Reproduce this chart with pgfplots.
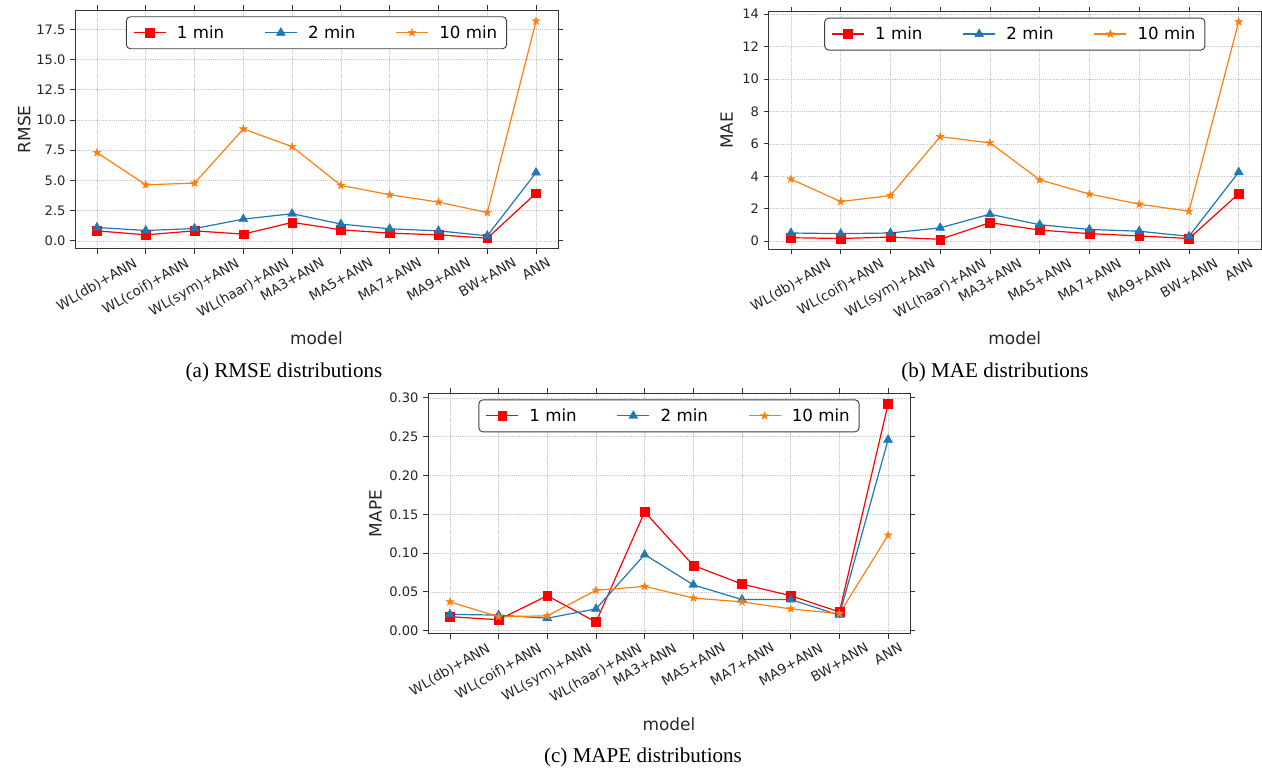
\documentclass[border=0pt]{standalone}
\usepackage{fontspec}
\setmainfont{DejaVu Sans}
\newfontfamily\capfont{Liberation Serif}
\usepackage{graphicx}
\usepackage{pgfplots}
\pgfplotsset{compat=1.18}
\usepackage{pgfplotstable}

\definecolor{mred}{HTML}{FF0000}
\definecolor{mblue}{HTML}{1F77B4}
\definecolor{morange}{HTML}{FF7F0E}

\pgfdeclareplotmark{fstar}{%
  \pgfpathmoveto{\pgfpointpolar{90}{\pgfplotmarksize}}%
  \pgfpathlineto{\pgfpointpolar{126}{0.4\pgfplotmarksize}}%
  \pgfpathlineto{\pgfpointpolar{162}{\pgfplotmarksize}}%
  \pgfpathlineto{\pgfpointpolar{198}{0.4\pgfplotmarksize}}%
  \pgfpathlineto{\pgfpointpolar{234}{\pgfplotmarksize}}%
  \pgfpathlineto{\pgfpointpolar{270}{0.4\pgfplotmarksize}}%
  \pgfpathlineto{\pgfpointpolar{306}{\pgfplotmarksize}}%
  \pgfpathlineto{\pgfpointpolar{342}{0.4\pgfplotmarksize}}%
  \pgfpathlineto{\pgfpointpolar{18}{\pgfplotmarksize}}%
  \pgfpathlineto{\pgfpointpolar{54}{0.4\pgfplotmarksize}}%
  \pgfpathclose\pgfusepathqfillstroke}

\pgfplotstableread{
x r1 r2 r10 a1 a2 a10 p1 p2 p10
0 0.83 1.11 7.31 0.21 0.50 3.82 0.018 0.021 0.037
1 0.50 0.86 4.64 0.16 0.46 2.44 0.014 0.020 0.018
2 0.83 1.02 4.78 0.25 0.50 2.81 0.045 0.016 0.019
3 0.56 1.80 9.26 0.11 0.82 6.44 0.011 0.028 0.052
4 1.53 2.25 7.80 1.14 1.66 6.06 0.153 0.098 0.057
5 0.92 1.39 4.59 0.68 1.01 3.78 0.084 0.059 0.042
6 0.64 1.00 3.82 0.46 0.72 2.90 0.060 0.040 0.037
7 0.50 0.83 3.21 0.32 0.61 2.28 0.045 0.040 0.028
8 0.22 0.42 2.34 0.16 0.29 1.84 0.024 0.020 0.022
9 3.94 5.65 18.19 2.92 4.25 13.53 0.292 0.246 0.123
}\data

\pgfplotsset{
  mystyle/.style={
    scale only axis,
    xmin=-0.45, xmax=9.45,
    xtick={0,...,9},
    xticklabels={\rotatebox{30}{WL(db)+ANN},\rotatebox{30}{WL(coif)+ANN},\rotatebox{30}{WL(sym)+ANN},\rotatebox{30}{WL(haar)+ANN},\rotatebox{30}{MA3+ANN},\rotatebox{30}{MA5+ANN},\rotatebox{30}{MA7+ANN},\rotatebox{30}{MA9+ANN},\rotatebox{30}{BW+ANN},\rotatebox{30}{ANN}},
    xticklabel style={anchor=north, inner sep=0pt, yshift=-2.5pt, font=\fontsize{10.2}{11}\selectfont},
    tick align=outside,
    major tick length=3.6pt,
    tick style={black!80, line width=0.6pt},
    axis line style={black!80, line width=0.6pt},
    grid=major,
    grid style={densely dotted, black!22, line width=0.5pt},
    tick label style={font=\fontsize{9.8}{11}\selectfont, text=black!85},
    /pgf/number format/assume math mode=true,
    label style={font=\fontsize{12.7}{14}\selectfont, text=black!85},
    xlabel={model},
    xlabel style={at={(axis description cs:0.5,-0.374)}, anchor=center},
    legend columns=3,
    legend style={at={(0.5,0.974)}, anchor=north, draw=black!75, rounded corners=3pt,
      fill=white, font=\fontsize{12.5}{14}\selectfont, inner xsep=5pt, inner ysep=4.5pt,
      line width=0.7pt,
      /tikz/every odd column/.append style={column sep=6pt},
      /tikz/every even column/.append style={column sep=28pt}},
    legend image code/.code={\draw[mark repeat=2,mark phase=2] plot coordinates {(0pt,0pt)(12pt,0pt)(24pt,0pt)};},
    legend cell align=left,
  },
  s1/.style={color=mred, line width=0.9pt, mark=square*, mark size=3.3pt, mark options={solid, fill=mred, draw=mred, line width=0.3pt}},
  s2/.style={color=mblue, line width=0.9pt, mark=triangle*, mark size=3.9pt, mark options={solid, fill=mblue, draw=mblue, line width=0.3pt}},
  s3/.style={color=morange, line width=0.9pt, mark=fstar, mark size=3.1pt, mark options={solid, fill=morange, draw=morange, line width=0.3pt}},
}

\begin{document}
\begin{tikzpicture}
\useasboundingbox (0,0) rectangle (946.5pt,576.75pt);

% (a) RMSE
\begin{axis}[mystyle, at={(56.25pt,390.2pt)}, anchor=south west,
  width=362.25pt, height=179pt,
  ymin=-0.65, ymax=19.1,
  ytick={0,2.5,...,17.5},
  yticklabel style={/pgf/number format/.cd, fixed, fixed zerofill, precision=1},
  ylabel={RMSE},
  ylabel style={at={(axis description cs:-0.105,0.5)}, anchor=center}]
\addplot[s1] table[x=x, y=r1] {\data};
\addplot[s2] table[x=x, y=r2] {\data};
\addplot[s3] table[x=x, y=r10] {\data};
\legend{1 min, 2 min, 10 min}
\end{axis}

% (b) MAE
\begin{axis}[mystyle, at={(576.4pt,389.6pt)}, anchor=south west,
  width=369.4pt, height=178.6pt,
  ymin=-0.52, ymax=14.17,
  ytick={0,2,...,14},
  ylabel={MAE},
  ylabel style={at={(axis description cs:-0.085,0.5)}, anchor=center}]
\addplot[s1] table[x=x, y=a1] {\data};
\addplot[s2] table[x=x, y=a2] {\data};
\addplot[s3] table[x=x, y=a10] {\data};
\legend{1 min, 2 min, 10 min}
\end{axis}

% (c) MAPE
\begin{axis}[mystyle, at={(321pt,101.4pt)}, anchor=south west,
  width=361.5pt, height=180.5pt,
  ymin=-0.0041, ymax=0.3061,
  ytick={0,0.05,...,0.31},
  yticklabel style={/pgf/number format/.cd, fixed, fixed zerofill, precision=2},
  ylabel={MAPE},
  ylabel style={at={(axis description cs:-0.109,0.5)}, anchor=center}]
\addplot[s1] table[x=x, y=p1] {\data};
\addplot[s2] table[x=x, y=p2] {\data};
\addplot[s3] table[x=x, y=p10] {\data};
\legend{1 min, 2 min, 10 min}
\end{axis}

\node[font=\capfont\fontsize{15.8}{18}\selectfont] at (213pt,297.75pt) {(a) RMSE distributions};
\node[font=\capfont\fontsize{15.8}{18}\selectfont] at (746.25pt,297.75pt) {(b) MAE distributions};
\node[font=\capfont\fontsize{15.8}{18}\selectfont] at (482.25pt,9pt) {(c) MAPE distributions};
\end{tikzpicture}
\end{document}
